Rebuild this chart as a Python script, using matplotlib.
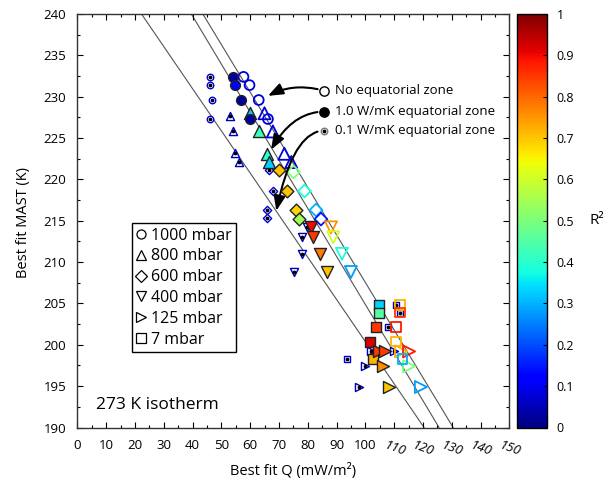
import matplotlib
matplotlib.use("Agg")
import matplotlib.pyplot as plt
import numpy as np
from matplotlib.lines import Line2D

plt.rcParams['font.family'] = ['Open Sans', 'DejaVu Sans']

# marker per pressure level
pressures = ['1000 mbar', '800 mbar', '600 mbar', '400 mbar', '125 mbar', '7 mbar']
markers = ['o', '^', 'D', 'v', '>', 's']

# no equatorial zone (open markers)
open_mk = ['o', 'o', 'o', 'o', '^', '^', '^', '^', 'D', 'D', 'D', 'D',
           'v', 'v', 'v', 'v', '>', '>', '>', '>', 's', 's', 's', 's', 's']
open_q = [57.7, 59.8, 63.0, 66.2, 65.0, 67.9, 71.9, 74.3, 75.1, 78.9, 82.9, 84.6,
          88.1, 88.9, 91.9, 95.0, 112.4, 115.2, 115.2, 119.3, 112.0, 112.0, 110.6, 110.6, 112.9]
open_t = [232.4, 231.4, 229.6, 227.3, 228.0, 225.8, 223.1, 222.1, 220.9, 218.6, 216.3, 215.2,
          214.2, 213.0, 211.0, 208.8, 199.2, 199.2, 197.4, 194.9, 204.8, 203.9, 202.2, 200.4, 198.3]
open_r2 = [0.08, 0.08, 0.08, 0.08, 0.08, 0.08, 0.08, 0.08, 0.5, 0.38, 0.3, 0.15,
           0.75, 0.6, 0.38, 0.28, 0.72, 0.88, 0.5, 0.28, 0.72, 0.85, 0.88, 0.72, 0.3]

# 1.0 W/mK equatorial zone (filled markers)
fill_mk = ['s', 's', 's', 's', 's', '>', '>', '>', '>', 'v', 'v', 'v', 'v',
           'D', 'D', 'D', 'D', '^', '^', '^', '^', 'o', 'o', 'o', 'o']
fill_q = [104.7, 104.7, 103.7, 101.6, 102.8, 104.9, 106.9, 106.2, 108.1, 81.2, 82.0, 84.1, 86.6,
          70.0, 72.7, 75.8, 77.1, 59.8, 63.0, 66.0, 66.5, 54.0, 54.9, 56.9, 59.8]
fill_t = [204.8, 203.9, 202.2, 200.3, 198.3, 199.2, 199.2, 197.4, 194.9, 214.2, 213.0, 211.0, 208.8,
          221.1, 218.6, 216.3, 215.2, 228.0, 225.8, 223.1, 222.1, 232.4, 231.4, 229.6, 227.3]
fill_r2 = [0.33, 0.45, 0.85, 0.92, 0.72, 0.85, 0.85, 0.76, 0.7, 0.9, 0.85, 0.78, 0.7,
           0.7, 0.7, 0.68, 0.55, 0.33, 0.42, 0.4, 0.33, 0.03, 0.12, 0.03, 0.03]

# 0.1 W/mK equatorial zone (small dotted markers)
dot_mk = ['o', 'o', 'o', 'o', '^', '^', '^', '^', 'D', 'D', 'D', 'D',
          'v', 'v', 'v', 'v', '>', '>', '>', '>', 's', 's', 's', 's']
dot_q = [46.0, 46.0, 46.9, 46.0, 52.9, 54.0, 54.9, 56.0, 66.7, 68.1, 65.8, 65.8,
         79.7, 77.9, 77.9, 75.1, 110.1, 102.0, 100.0, 97.9, 110.8, 112.0, 108.0, 93.7]
dot_t = [232.4, 231.4, 229.6, 227.3, 227.7, 225.8, 223.2, 222.1, 221.1, 218.6, 216.3, 215.3,
         214.2, 213.0, 211.0, 208.8, 199.2, 199.2, 197.4, 194.9, 204.8, 203.9, 202.2, 198.3]
dot_r2 = [0.08, 0.08, 0.08, 0.08, 0.06, 0.06, 0.06, 0.06, 0.08, 0.08, 0.08, 0.08,
          0.05, 0.05, 0.05, 0.05, 0.06, 0.06, 0.06, 0.05, 0.05, 0.05, 0.05, 0.08]

# fit lines (Q at top and bottom of the plot)
line_q_top = [22.3, 39.6, 43.6]
line_q_bot = [120.4, 125.6, 130.5]
line_t = [240, 190]

sizes = {'o': 50, '^': 75, 'D': 42, 'v': 75, '>': 75, 's': 50}
dsizes = {'o': 22, '^': 34, 'D': 18, 'v': 34, '>': 34, 's': 20}

cmap = plt.get_cmap('jet')

fig = plt.figure(figsize=(6.14, 4.91), dpi=100)
ax = fig.add_axes([77.3 / 614, 1 - 427.5 / 491, 432 / 614, 413.5 / 491])
cax = fig.add_axes([517 / 614, 1 - 427.5 / 491, 30 / 614, 413.5 / 491])

for i in range(3):
    ax.plot([line_q_top[i], line_q_bot[i]], line_t, color='#555555', lw=0.8, zorder=1)

for m, q, t, r in zip(dot_mk, dot_q, dot_t, dot_r2):
    ax.scatter(q, t, marker=m, s=dsizes[m], facecolor='white', edgecolor=cmap(r), linewidth=1.0, zorder=2)
    ax.scatter(q, t, marker='o', s=3, color='black', zorder=2)

for m, q, t, r in zip(open_mk, open_q, open_t, open_r2):
    ax.scatter(q, t, marker=m, s=sizes[m], facecolor='none', edgecolor=cmap(r), linewidth=1.3, zorder=3)

for m, q, t, r in zip(fill_mk, fill_q, fill_t, fill_r2):
    ax.scatter(q, t, marker=m, s=sizes[m], facecolor=cmap(r), edgecolor='#222222', linewidth=1.0, zorder=4)

# key for the equatorial zone markers
key_q = 85.8
key_t = [230.7, 228.2, 225.9]
key_text = ['No equatorial zone', '1.0 W/mK equatorial zone', '0.1 W/mK equatorial zone']
ax.scatter(key_q, key_t[0], marker='o', s=45, facecolor='white', edgecolor='black', linewidth=1.0, zorder=5)
ax.scatter(key_q, key_t[1], marker='o', s=45, facecolor='black', edgecolor='black', zorder=5)
ax.scatter(key_q, key_t[2], marker='o', s=22, facecolor='white', edgecolor='#777777', linewidth=1.0, zorder=5)
ax.scatter(key_q, key_t[2], marker='o', s=3, color='black', zorder=5)
for t, s in zip(key_t, key_text):
    ax.text(key_q + 3.6, t, s, fontsize=9.5, va='center', ha='left')

arrow_end = [(66.2, 230.1), (67.3, 223.6), (69.1, 216.2)]
conn = ['arc3,rad=0.2', 'angle3,angleA=0,angleB=60', 'angle3,angleA=0,angleB=78']
for t, e, c in zip(key_t, arrow_end, conn):
    ax.annotate('', xy=e, xytext=(key_q, t),
                arrowprops=dict(arrowstyle='-|>,head_length=0.9,head_width=0.35',
                                connectionstyle=c, lw=1.5, color='black',
                                shrinkA=5, shrinkB=0))

# pressure legend
handles = [Line2D([], [], marker=m, ls='none', markerfacecolor='white', markeredgecolor='black',
                  markersize=6.5, markeredgewidth=0.9) for m in markers]
leg = ax.legend(handles, pressures, loc='upper left', bbox_to_anchor=(0.126, 0.495),
                borderaxespad=0, fancybox=False, edgecolor='black', fontsize=11.5,
                handlelength=0.6, handletextpad=0.3, labelspacing=0.3, borderpad=0.3,
                framealpha=1)
leg.get_frame().set_linewidth(1.0)

ax.text(6.5, 192.7, '273 K isotherm', fontsize=12.5, va='center', ha='left')

ax.set_xlim(0, 150)
ax.set_ylim(190, 240)
xt = list(range(0, 151, 10))
ax.set_xticks(xt)
ax.set_xticklabels([str(v) for v in xt])
ax.set_xticks(np.arange(5, 150, 10), minor=True)
ax.set_yticks(range(190, 241, 5))
ax.set_yticks(np.arange(192.5, 240, 5), minor=True)
ax.tick_params(which='both', direction='in', top=True, right=True, labelsize=9.5)
ax.tick_params(which='major', length=4, width=0.8)
ax.tick_params(which='minor', length=2.5, width=0.8)
ax.tick_params(axis='x', pad=8)
ax.tick_params(axis='y', pad=8)
for lab, v in zip(ax.get_xticklabels(), xt):
    if v >= 110:
        lab.set_style('italic')
        lab.set_rotation(-20)
for sp in ax.spines.values():
    sp.set_linewidth(1.0)
    sp.set_color('#333333')

fig.text(24 / 614, 1 - 222 / 491, 'Best fit MAST (K)', rotation=90, fontsize=10.5, va='center', ha='center')
fig.text(293 / 614, 1 - 471 / 491, 'Best fit Q (mW/m²)', fontsize=10.5, va='center', ha='center')

sm = matplotlib.cm.ScalarMappable(cmap=cmap, norm=plt.Normalize(0, 1))
cb = fig.colorbar(sm, cax=cax)
cb_ticks = [0, 0.1, 0.2, 0.3, 0.4, 0.5, 0.6, 0.7, 0.8, 0.9, 1]
cb.set_ticks(cb_ticks)
cb.set_ticklabels(['0', '0.1', '0.2', '0.3', '0.4', '0.5', '0.6', '0.7', '0.8', '0.9', '1'])
cax.tick_params(direction='in', length=3, labelsize=9, pad=7)
cb.outline.set_linewidth(1.0)
cb.set_label('R²', rotation=0, fontsize=11, labelpad=16, va='center')

fig.savefig('out.png', dpi=100)
